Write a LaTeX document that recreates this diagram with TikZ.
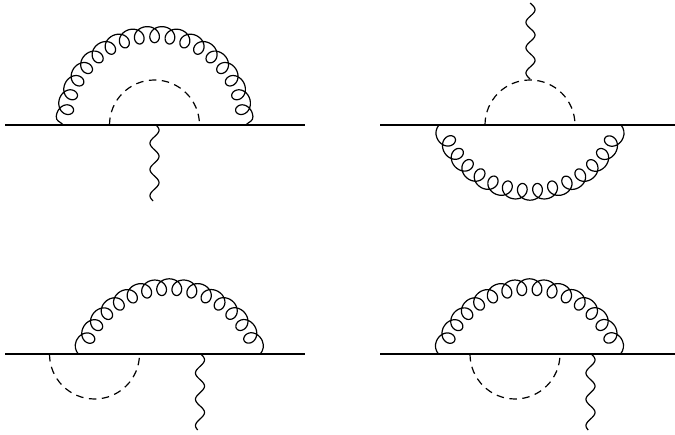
\documentclass[tikz,border=0pt]{standalone}
\tikzset{
  fermion/.style={line width=1.45pt,line cap=butt},
  gluonline/.style={line width=1.2pt,line join=round},
  photonline/.style={line width=1.2pt,line join=round},
  scalarline/.style={line width=1.2pt,dash pattern=on 7.5pt off 5.5pt}
}
\newcommand{\gB}{8.5}
\newcommand{\gA}{8.2}
% #1 cx, #2 baseline y, #3 centre offset, #4 R, #5 first peak angle, #6 step, #7 loops, #8 flip, #9 half chord
\newcommand{\gluonarc}[9]{%
  \pgfmathsetmacro{\gcy}{#2+#8*#3}%
  \pgfmathsetmacro{\gRp}{#4+\gA}%
  \pgfmathsetmacro{\gLast}{#5+#6*#7}%
  \coordinate (gE) at ({#1+#9},#2);
  \coordinate (gP) at ({#1+\gRp*cos(#5)},{\gcy-#8*\gRp*sin(#5)});
  \coordinate (gC) at ({#1+\gRp*cos(#5)+5*sin(#5)},{\gcy-#8*(\gRp*sin(#5)-5*cos(#5))});
  \coordinate (gQ) at ({#1-#9},#2);
  \coordinate (gK) at ({#1+\gRp*cos(\gLast)},{\gcy-#8*\gRp*sin(\gLast)});
  \coordinate (gD) at ({#1+\gRp*cos(\gLast)-5*sin(\gLast)},{\gcy-#8*(\gRp*sin(\gLast)+5*cos(\gLast))});
  \draw[gluonline] (gE) .. controls ($(gE)+(3,{-#8*3.5})$) and (gC) .. (gP)
    -- plot[variable=\p,domain=0:{360*#7},samples={30*#7+1}]
      ({#1+(#4+\gA*cos(\p))*cos(#5+\p/360*#6+\gB*sin(\p)/#4*57.296)},
       {\gcy-#8*(#4+\gA*cos(\p))*sin(#5+\p/360*#6+\gB*sin(\p)/#4*57.296)})
    .. controls (gD) and ($(gQ)+(-3,{-#8*3.5})$) .. (gQ);
}
% #1 x centre, #2 y start, #3 y end, #4 phase start, #5 phase end
\newcommand{\photonline}[5]{%
  \draw[photonline] plot[variable=\q,domain=#4:#5,samples=90]
    ({#1+4.5*sin(\q)},{#2+(\q-(#4))/((#5)-(#4))*(#3-#2)});
}
\usetikzlibrary{calc}
\begin{document}
\begin{tikzpicture}[x=1pt,y=-1pt]
\useasboundingbox (0,0) rectangle (675,435);
% top left
\coordinate (a1) at (5,125); \coordinate (a2) at (305,125);
\draw[fermion] (a1) -- (a2);
\gluonarc{154.6}{125}{0}{90.5}{5}{10}{17}{1}{91.3}
\coordinate (as) at (109.5,125);
\draw[scalarline] (as) arc[start angle=180,end angle=0,radius=45pt];
\photonline{154.5}{125}{201}{20}{1062}
% top right
\coordinate (b1) at (380,125); \coordinate (b2) at (675,125);
\draw[fermion] (b1) -- (b2);
\gluonarc{530}{125}{25.5}{92.5}{22.5}{9.65}{14}{-1}{91}
\coordinate (bs) at (485,125);
\draw[scalarline] (bs) arc[start angle=180,end angle=0,radius=45pt];
\photonline{530.5}{3}{79}{-5}{1075}
% bottom left
\coordinate (c1) at (5,354); \coordinate (c2) at (305,354);
\draw[fermion] (c1) -- (c2);
\gluonarc{169.3}{354}{25.5}{92.5}{22.5}{9.65}{14}{1}{91}
\coordinate (cs) at (49.5,354);
\draw[scalarline] (cs) arc[start angle=180,end angle=360,radius=45pt];
\photonline{200}{354}{430}{10}{1050}
% bottom right
\coordinate (d1) at (380,354); \coordinate (d2) at (675,354);
\draw[fermion] (d1) -- (d2);
\gluonarc{529.5}{354}{25.5}{92.5}{22.5}{9.65}{14}{1}{91}
\coordinate (ds) at (470,354);
\draw[scalarline] (ds) arc[start angle=180,end angle=360,radius=45pt];
\photonline{590.5}{354}{430}{10}{1050}
\end{tikzpicture}
\end{document}
